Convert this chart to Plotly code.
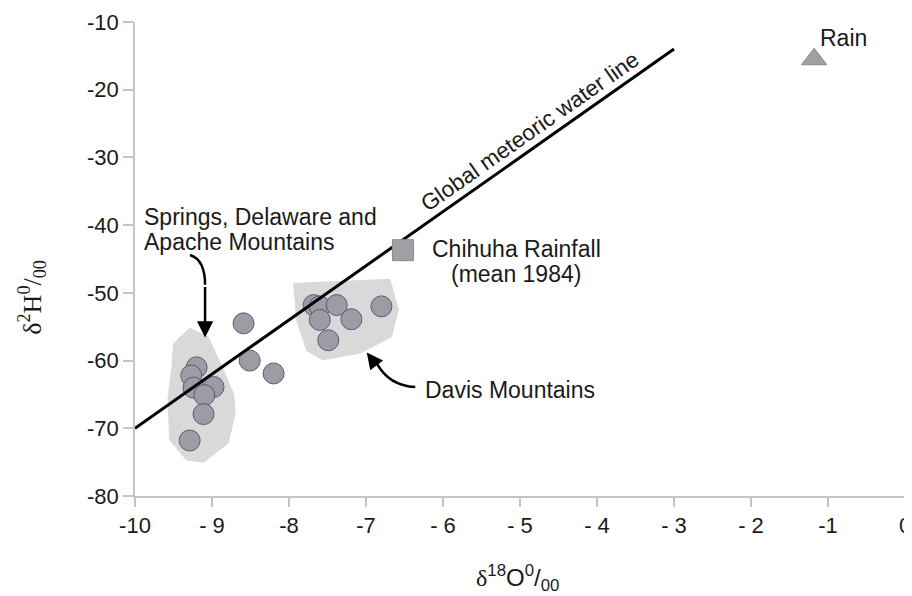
import plotly.graph_objects as go

# ---- data ----
springs_x = [-9.20, -9.27, -9.24, -8.98, -9.10, -9.11, -9.29]
springs_y = [-61.0, -62.2, -64.0, -63.9, -65.1, -67.9, -71.8]
other_x = [-8.59, -8.51, -8.20]
other_y = [-54.5, -60.0, -61.9]
davis_x = [-7.68, -7.60, -7.38, -7.60, -7.19, -7.49, -6.80]
davis_y = [-51.8, -52.0, -51.8, -54.0, -53.9, -57.0, -52.0]
chihuahua_x = [-6.52]
chihuahua_y = [-43.7]
rain_x = [-1.18]
rain_y = [-15.5]
gmwl_x = [-10.0, -3.0]
gmwl_y = [-70.0, -14.0]

springs_poly_x = [-9.50, -9.29, -9.05, -8.87, -8.72, -8.70, -8.79, -9.11, -9.33, -9.55, -9.57, -9.52]
springs_poly_y = [-57.5, -55.2, -56.5, -60.9, -64.9, -67.8, -72.2, -75.0, -74.7, -71.7, -65.4, -60.9]
davis_poly_x = [-7.94, -6.69, -6.58, -6.67, -7.08, -7.56, -7.77, -7.90]
davis_poly_y = [-48.6, -48.0, -52.5, -56.5, -58.9, -59.9, -58.5, -54.0]

x_tickvals = [-10, -9, -8, -7, -6, -5, -4, -3, -2, -1, 0]
x_ticktext = ["-10", "- 9", "-8", "-7", "- 6", "- 5", "- 4", "- 3", "- 2", "-1", "0"]
y_tickvals = [-80, -70, -60, -50, -40, -30, -20, -10]
y_ticktext = ["-80", "-70", "-60", "-50", "-40", "-30", "-20", "-10"]

SANS = "Arial, Liberation Sans, sans-serif"
SERIF = "Liberation Serif, Times New Roman, serif"
TXT = "#1a1a1a"
AX = "#c4c4c4"

fig = go.Figure()

for px_, py_ in [(springs_poly_x, springs_poly_y), (davis_poly_x, davis_poly_y)]:
    fig.add_trace(go.Scatter(x=px_ + [px_[0]], y=py_ + [py_[0]], mode="lines",
                             fill="toself", fillcolor="#d9d9d9",
                             line=dict(color="#d9d9d9", width=1),
                             hoverinfo="skip", showlegend=False))

circle_marker = dict(symbol="circle", size=21, color="#9c9ca4",
                     line=dict(color="#5a5a74", width=1))
for xs, ys in [(springs_x, springs_y), (other_x, other_y), (davis_x, davis_y)]:
    fig.add_trace(go.Scatter(x=xs, y=ys, mode="markers", marker=circle_marker,
                             showlegend=False, cliponaxis=False))

fig.add_trace(go.Scatter(x=gmwl_x, y=gmwl_y, mode="lines",
                         line=dict(color="black", width=3), showlegend=False))

fig.add_trace(go.Scatter(x=chihuahua_x, y=chihuahua_y, mode="markers",
                         marker=dict(symbol="square", size=21, color="#a0a0a4",
                                     line=dict(color="#8a8a8e", width=1)),
                         showlegend=False, cliponaxis=False))
fig.add_trace(go.Scatter(x=rain_x, y=rain_y, mode="markers",
                         marker=dict(symbol="triangle-up", size=22, color="#a0a0a4",
                                     line=dict(color="#8a8a8e", width=1)),
                         showlegend=False, cliponaxis=False))

# curved arrow shafts
fig.add_shape(type="path", xref="x", yref="y",
              path="M -9.286 -44.42 Q -9.09 -45.1 -9.09 -48.8",
              line=dict(color="black", width=2.5))
fig.add_shape(type="path", xref="x", yref="y",
              path="M -6.86 -60.4 Q -6.70 -63.7 -6.36 -63.9",
              line=dict(color="black", width=2.5))

ann = []
# arrow heads
ann.append(dict(x=-9.09, y=-56.6, xref="x", yref="y", ax=0, ay=-52, text="",
                showarrow=True, arrowhead=2, arrowsize=1.3, arrowwidth=2.5,
                arrowcolor="black"))
ann.append(dict(x=-6.99, y=-58.8, xref="x", yref="y", ax=10, ay=13, text="",
                showarrow=True, arrowhead=2, arrowsize=1.3, arrowwidth=2.5,
                arrowcolor="black"))

lab = dict(showarrow=False, xref="x", yref="y", font=dict(family=SANS, size=23, color=TXT))
ann.append(dict(lab, x=-9.91, y=-38.73, text="Springs, Delaware and", xanchor="left", yanchor="middle"))
ann.append(dict(lab, x=-9.91, y=-42.42, text="Apache Mountains", xanchor="left", yanchor="middle"))
ann.append(dict(lab, x=-5.05, y=-43.46, text="Chihuha Rainfall", xanchor="center", yanchor="middle"))
ann.append(dict(lab, x=-5.05, y=-47.15, text="(mean 1984)", xanchor="center", yanchor="middle"))
ann.append(dict(lab, x=-6.26, y=-64.3, text="Davis Mountains", xanchor="left", yanchor="middle"))
ann.append(dict(lab, x=-1.13, y=-12.4, text="Rain", xanchor="left", yanchor="middle"))
ann.append(dict(lab, x=-4.87, y=-26.2, text="Global meteoric water line",
                textangle=-35, xanchor="center", yanchor="middle",
                font=dict(family=SANS, size=22.5, color=TXT)))

# axis titles
ann.append(dict(showarrow=False, xref="paper", yref="paper", x=0.497, y=-0.172,
                xanchor="center", yanchor="middle",
                font=dict(family=SANS, size=24, color=TXT),
                text="<span style=\"font-family:Liberation Serif\">δ</span><sup>18</sup>O<sup>0</sup>/<sub>00</sub>"))
ann.append(dict(showarrow=False, xref="paper", yref="paper", x=-0.134, y=0.42,
                xanchor="center", yanchor="middle", textangle=-90,
                font=dict(family=SERIF, size=26, color=TXT),
                text="δ<sup>2</sup>H<sup>0</sup>/<sub>00</sub>"))

# the page adds an 8px body margin, so the figure is sized/margined to compensate
fig.update_layout(
    width=900, height=588,
    margin=dict(l=127, r=3, t=14, b=100, autoexpand=False),
    paper_bgcolor="white", plot_bgcolor="white",
    annotations=ann,
    showlegend=False,
    xaxis=dict(range=[-10, 0], tickvals=x_tickvals, ticktext=x_ticktext,
               automargin=False, ticklabeloverflow="allow",
               showgrid=False, zeroline=False, showline=True, linecolor=AX,
               linewidth=1.5, ticks="outside", ticklen=9, tickcolor=AX, tickwidth=1.5,
               tickfont=dict(family=SANS, size=22, color=TXT)),
    yaxis=dict(range=[-80, -10], tickvals=y_tickvals, ticktext=y_ticktext,
               automargin=False,
               showgrid=False, zeroline=False, showline=True, linecolor=AX,
               linewidth=1.5, ticks="outside", ticklen=10, tickcolor=AX, tickwidth=1.5,
               tickfont=dict(family=SANS, size=22, color=TXT)),
)

fig.write_html("out.html")
